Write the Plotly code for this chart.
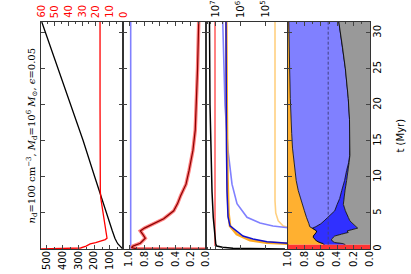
import plotly.graph_objects as go

# ---------------- data ----------------
# Panel 1 (black on bottom axis, red on top red axis)
t_black1 = [0, 0.3, 0.7, 1.0, 1.5, 2.5, 3.5, 5, 7.7, 10, 15.1, 20, 25, 31.5]
black1 = [19, 35, 50, 58, 69, 85, 100, 125, 163, 196, 270, 348, 427, 530]
t_red1 = [0, 0.05, 0.14, 0.4, 0.7, 0.9, 1.1, 1.3, 1.5, 2.5, 3.5, 4.5, 5.7, 7, 8, 12, 20, 31.5]
red1 = [62, 45, 31, 27, 24, 20, 16.8, 13, 11.7, 12.5, 13.2, 14.3, 15.4, 16.2, 16.6, 16.8, 16.8, 16.8]
red_ticks = [0, 10, 20, 30, 40, 50, 60]

# Panel 2
t_p2 = [0, 0.02, 0.2, 0.4, 0.8, 1.5, 2.0, 2.5, 2.9, 3.5, 4.2, 5.3, 6.3, 7.4, 9, 10.9, 13.7, 16.5, 20, 25, 31.5]
frac_p2 = [0.0, 0.9, 0.97, 0.95, 0.855, 0.79, 0.82, 0.855, 0.80, 0.68, 0.55, 0.42, 0.37, 0.33, 0.26,
           0.22, 0.17, 0.14, 0.125, 0.11, 0.095]
t_blue2 = [0, 31.5]
blue2 = [0.98, 0.98]

# Panel 3 (log10 of values)
t_black3 = [0, 0.03, 0.1, 0.25, 0.42, 0.7, 2, 4.4, 8, 13, 20, 31.5]
lg_black3 = [4.2, 5.6, 6.28, 6.7, 6.93, 6.97, 7.0, 7.07, 7.12, 7.16, 7.2, 7.22]
t_red3 = [0.4, 31.5]
lg_red3 = [7.0, 7.0]
t_lblue3 = [2.8, 2.95, 3.2, 3.6, 4.4, 6.3, 9, 13.7, 20, 31.5]
lg_lblue3 = [3.9, 4.08, 4.68, 5.2, 5.72, 6.12, 6.32, 6.48, 6.6, 6.69]
t_dblue3 = [0.7, 0.8, 1.0, 1.4, 1.8, 2.5, 3.2, 4.5, 8, 13.7, 20, 31.5]
lg_dblue3 = [3.9, 4.08, 4.92, 5.48, 5.88, 6.12, 6.4, 6.48, 6.52, 6.54, 6.55, 6.56]
t_orng3 = [0.6, 0.74, 0.88, 1.2, 2.05, 3.2, 5, 10, 20, 31.5]
lg_orng3 = [3.9, 4.08, 4.93, 5.6, 6.13, 6.4, 6.46, 6.5, 6.53, 6.55]
t_lorng3 = [2.8, 2.97, 3.2, 3.9, 5, 6.7, 20, 31.5]
lg_lorng3 = [3.9, 4.08, 4.27, 4.47, 4.57, 4.6, 4.6, 4.6]
log_ticks = [5, 6, 7]

# Panel 4 (cumulative fractions, measured from the right)
t4 = [0.6, 0.75, 0.9, 1.1, 1.35, 1.6, 1.8, 2.05, 2.3, 2.5, 2.75, 2.9, 3.1, 3.5, 3.9, 4.4, 5.3, 6.2,
      7.0, 8.1, 9.5, 10.9, 12.0, 13.0, 14.0, 16.0, 18.0, 20.9, 25.0, 28.0, 31.5]
cum_orange_edge = [0.56, 0.57, 0.61, 0.65, 0.67, 0.69, 0.69, 0.67, 0.655, 0.65, 0.69, 0.72, 0.735,
                   0.745, 0.755, 0.775, 0.80, 0.825, 0.845, 0.875, 0.90, 0.915, 0.925, 0.935,
                   0.945, 0.955, 0.965, 0.972, 0.98, 0.985, 0.99]
cum_lblue_edge = [0.56, 0.57, 0.61, 0.65, 0.67, 0.69, 0.69, 0.67, 0.655, 0.65, 0.69, 0.70, 0.66,
                  0.60, 0.56, 0.51, 0.43, 0.40, 0.37, 0.345, 0.31, 0.285, 0.26, 0.248,
                  0.245, 0.245, 0.25, 0.265, 0.30, 0.335, 0.38]
cum_gray_edge = [0.30, 0.33, 0.43, 0.46, 0.47, 0.45, 0.43, 0.35, 0.265, 0.28, 0.19, 0.15, 0.17,
                 0.21, 0.245, 0.265, 0.30, 0.325, 0.32, 0.305, 0.285, 0.265, 0.255, 0.245,
                 0.245, 0.245, 0.25, 0.265, 0.30, 0.335, 0.38]
t_redbar = [0.0, 0.6]
dashed_frac = 0.51

# ---------------- figure ----------------
W, H = 411, 274
ML, MR, MT, MB = 41, 41, 22, 25
PW = W - ML - MR
edges = [0, 82, 165, 247, PW]
dom = [[edges[i] / PW, edges[i + 1] / PW] for i in range(4)]

TR = [0, 31.5]
fig = go.Figure()

# Panel 1
fig.add_trace(go.Scatter(x=black1, y=t_black1, xaxis='x', yaxis='y', mode='lines',
                         line=dict(color='black', width=1.3)))
fig.add_trace(go.Scatter(x=red1, y=t_red1, xaxis='x2', yaxis='y', mode='lines',
                         line=dict(color='#ff0000', width=1.3)))

# Panel 2
fig.add_trace(go.Scatter(x=blue2, y=t_blue2, xaxis='x3', yaxis='y2', mode='lines',
                         line=dict(color='#8080ff', width=1.6)))
fig.add_trace(go.Scatter(x=frac_p2, y=t_p2, xaxis='x3', yaxis='y2', mode='lines',
                         line=dict(color='#ff8080', width=3.5)))
fig.add_trace(go.Scatter(x=frac_p2, y=t_p2, xaxis='x3', yaxis='y2', mode='lines',
                         line=dict(color='#8b0000', width=1.2)))

# Panel 3
def p10(v):
    return [10 ** a for a in v]

fig.add_trace(go.Scatter(x=p10(lg_lorng3), y=t_lorng3, xaxis='x4', yaxis='y3', mode='lines',
                         line=dict(color='#ffd080', width=1.6)))
fig.add_trace(go.Scatter(x=p10(lg_lblue3), y=t_lblue3, xaxis='x4', yaxis='y3', mode='lines',
                         line=dict(color='#8080ff', width=1.6)))
fig.add_trace(go.Scatter(x=p10(lg_orng3), y=t_orng3, xaxis='x4', yaxis='y3', mode='lines',
                         line=dict(color='#ffaa22', width=2.6)))
fig.add_trace(go.Scatter(x=p10(lg_dblue3), y=t_dblue3, xaxis='x4', yaxis='y3', mode='lines',
                         line=dict(color='#1010d0', width=1.5)))
fig.add_trace(go.Scatter(x=p10(lg_red3), y=t_red3, xaxis='x4', yaxis='y3', mode='lines',
                         line=dict(color='#ff4040', width=1.3)))
fig.add_trace(go.Scatter(x=p10(lg_black3), y=t_black3, xaxis='x4', yaxis='y3', mode='lines',
                         line=dict(color='black', width=1.5)))

# Panel 4 stacked fills
ones = [1.0] * len(t4)
zeros = [0.0] * len(t4)
fig.add_trace(go.Scatter(x=ones, y=t4, xaxis='x5', yaxis='y4', mode='lines',
                         line=dict(width=0, color='rgba(0,0,0,0)')))
fig.add_trace(go.Scatter(x=cum_orange_edge, y=t4, xaxis='x5', yaxis='y4', mode='lines',
                         fill='tonextx', fillcolor='#ffb030', line=dict(color='black', width=0.8)))
fig.add_trace(go.Scatter(x=cum_lblue_edge, y=t4, xaxis='x5', yaxis='y4', mode='lines',
                         fill='tonextx', fillcolor='#8080ff', line=dict(color='black', width=0.8)))
fig.add_trace(go.Scatter(x=cum_gray_edge, y=t4, xaxis='x5', yaxis='y4', mode='lines',
                         fill='tonextx', fillcolor='#3030ff', line=dict(color='black', width=0.8)))
fig.add_trace(go.Scatter(x=zeros, y=t4, xaxis='x5', yaxis='y4', mode='lines',
                         fill='tonextx', fillcolor='#999999', line=dict(width=0, color='rgba(0,0,0,0)')))
# red bar
fig.add_trace(go.Scatter(x=[1.0, 1.0], y=t_redbar, xaxis='x5', yaxis='y4', mode='lines',
                         line=dict(width=0, color='rgba(0,0,0,0)')))
fig.add_trace(go.Scatter(x=[0.0, 0.0], y=t_redbar, xaxis='x5', yaxis='y4', mode='lines',
                         fill='tonextx', fillcolor='#ff3333', line=dict(width=0, color='rgba(0,0,0,0)')))
fig.add_trace(go.Scatter(x=[dashed_frac, dashed_frac], y=[t_redbar[1], TR[1]], xaxis='x5', yaxis='y4',
                         mode='lines', line=dict(color='#404080', width=1, dash='3px,2px')))

FONT = dict(family='DejaVu Sans', size=10, color='black')
LINE = dict(showline=True, linecolor='#333', linewidth=1, showgrid=False, zeroline=False, automargin=False)

def xax(domain, rng, side='bottom', **kw):
    d = dict(domain=domain, range=rng, side=side, ticks='inside', ticklen=4,
             tickcolor='#444', tickangle=-90, tickfont=FONT, ticklabelstandoff=-3, **LINE)
    d.update(kw)
    return d

fig.update_layout(
    width=W, height=H, margin=dict(l=ML, r=MR, t=MT, b=MB, pad=0, autoexpand=False),
    paper_bgcolor='white', plot_bgcolor='white', showlegend=False,
    font=FONT,
    xaxis=xax(dom[0], [535, 18], anchor='y', mirror=True, tickvals=[100, 200, 300, 400, 500],
              minor=dict(ticks='inside', ticklen=2, dtick=50, tickcolor='#444')),
    xaxis2=xax(dom[0], [60, 0], side='top', anchor='y', overlaying='x', showticklabels=False,
               tickvals=red_ticks, tickcolor='#444',
               minor=dict(ticks='inside', ticklen=2, dtick=5, tickcolor='#444'),
               showline=False),
    xaxis3=xax(dom[1], [1.08, 0], anchor='y2', mirror='ticks', tickvals=[0, 0.2, 0.4, 0.6, 0.8, 1.0],
               tickformat='.1f', minor=dict(ticks='inside', ticklen=2, dtick=0.1, tickcolor='#444')),
    xaxis4=xax(dom[2], [7.36, 4.08], side='top', anchor='y3', type='log', mirror='ticks',
               showticklabels=False, tickvals=p10(log_ticks),
               minor=dict(ticks='inside', ticklen=2, tickcolor='#444')),
    xaxis5=xax(dom[3], [1.0, 0], anchor='y4', mirror='ticks', tickvals=[0, 0.2, 0.4, 0.6, 0.8, 1.0],
               tickformat='.1f', minor=dict(ticks='inside', ticklen=2, dtick=0.1, tickcolor='#444')),
    yaxis=dict(range=TR, anchor='x', showticklabels=False, ticks='inside', ticklen=4, tickcolor='#444',
               dtick=5, mirror='ticks', **LINE),
    yaxis2=dict(range=TR, anchor='x3', matches='y', showticklabels=False, ticks='inside', ticklen=4,
                tickcolor='#444', dtick=5, mirror='ticks', **LINE),
    yaxis3=dict(range=TR, anchor='x4', matches='y', showticklabels=False, ticks='inside', ticklen=4,
                tickcolor='#444', dtick=5, mirror='ticks', **LINE),
    yaxis4=dict(range=TR, anchor='x5', matches='y', side='right', ticks='inside', ticklen=4,
                tickcolor='#444', dtick=5, mirror='ticks', tickangle=-90, tickfont=FONT,
                ticklabelstandoff=-2, **LINE),
)

# top tick labels (rotated) for the red axis and the log axis
for v in red_ticks:
    fig.add_annotation(text=str(v), xref='x2', yref='paper', x=v, y=1, yshift=2,
                       xanchor='center', yanchor='bottom', textangle=-90, showarrow=False,
                       font=dict(family='DejaVu Sans', size=10, color='red'))
for e in log_ticks:
    fig.add_annotation(text='10<sup>%d</sup>' % e, xref='x4', yref='paper', x=e, y=1, yshift=2,
                       xanchor='center', yanchor='bottom', textangle=-90, showarrow=False,
                       font=FONT)

fig.add_annotation(
    text='<i>n</i><sub>d</sub>=100 cm<sup>−3</sup>, <i>M</i><sub>d</sub>=10<sup>6</sup> <i>M</i><sub>⊙</sub>, <i>ϵ</i>=0.05',
    xref='paper', yref='paper', x=-10 / PW, y=0.5, xanchor='center', yanchor='middle',
    textangle=-90, showarrow=False, font=dict(family='DejaVu Serif', size=10, color='black'))
fig.add_annotation(
    text='t (Myr)', xref='paper', yref='paper', x=1 + 30 / PW, y=0.5, xanchor='center', yanchor='middle',
    textangle=-90, showarrow=False, font=FONT)

fig.write_html('out.html', config={'displayModeBar': False},
               post_script="document.body.style.margin='0';document.body.style.overflow='hidden';")
